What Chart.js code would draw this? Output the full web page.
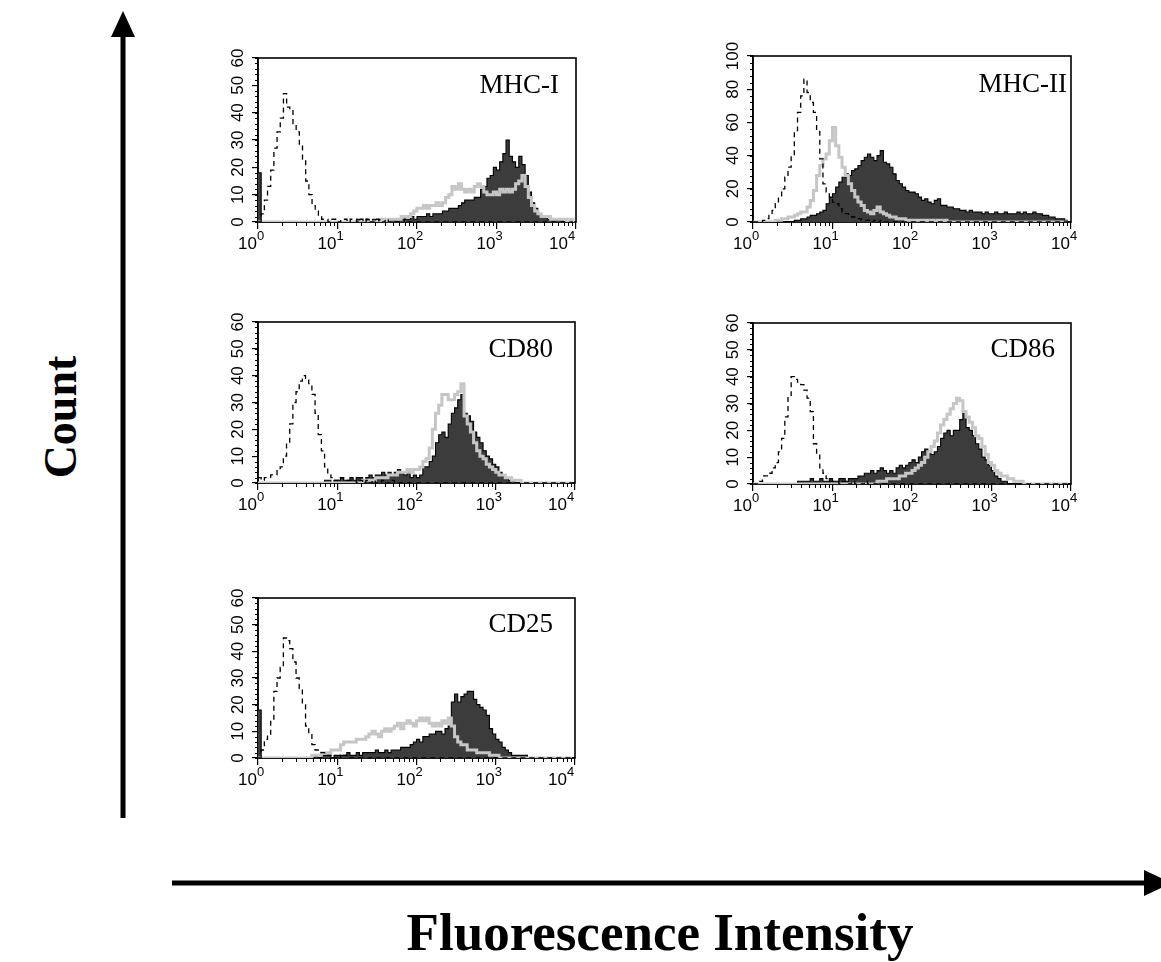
<!DOCTYPE html>
<html>
<head>
<meta charset="utf-8">
<script src="https://cdn.jsdelivr.net/npm/chart.js@4.4.1/dist/chart.umd.min.js"></script>
<style>
  body { margin: 0; background: #fff; }
  #page { position: relative; width: 1161px; height: 962px; overflow: hidden; background: #fff; }
  #page canvas { position: absolute; }
  .big { position: absolute; font-family: 'Liberation Serif', 'Times New Roman', serif; font-weight: bold; color: #000; white-space: nowrap; text-align: center; }
  #countLabel { left: -39px; top: 394px; width: 200px; font-size: 46px; line-height: 46px; transform: rotate(-90deg); }
  #fluoLabel { left: 360px; top: 906px; width: 600px; font-size: 53px; line-height: 53px; }
</style>
</head>
<body>
<div id="page">
  <svg width="1161" height="962" style="position:absolute;left:0;top:0">
    <line x1="123" y1="32" x2="123" y2="818" stroke="#000" stroke-width="5"/>
    <polygon points="123,11 111,37 135,37" fill="#000"/>
    <line x1="172" y1="883" x2="1146" y2="883" stroke="#000" stroke-width="5"/>
    <polygon points="1172,883 1144,870 1144,896" fill="#000"/>
  </svg>
  <div class="big" id="countLabel">Count</div>
  <div class="big" id="fluoLabel">Fluorescence Intensity</div>
</div>
<script>
// 4 log decades, 25 channels per decade
const perDecade = 25;
const channels = 100;
const decadeLabels = ['0', '1', '2', '3', '4'];
const yTicks60 = [0, 10, 20, 30, 40, 50, 60];
const yTicks100 = [0, 20, 40, 60, 80, 100];

// dashed = isotype, gray = line histogram, dark = filled histogram
const mhc1Iso = [
  0, 3, 8, 13, 19, 27, 33, 38, 47, 42,
  41, 36, 33, 28, 23, 15, 10, 6, 4, 2,
  1, 1, 0, 1, 1, 0, 1, 1, 0, 1,
  1, 0, 1, 0, 1, 0, 0, 1, 0, 0,
  1, 0, 0, 0, 0, 0, 1, 0, 0, 0,
  0, 0, 0, 0, 0, 0, 0, 0, 0, 0,
  0, 0, 0, 0, 0, 0, 0, 0, 0, 0,
  0, 0, 0, 0, 0, 0, 0, 0, 0, 0,
  0, 0, 0, 0, 0, 0, 0, 0, 0, 0,
  0, 0, 0, 0, 0, 0, 0, 0, 0, 0];
const mhc1Gray = [
  0, 0, 0, 0, 0, 0, 0, 0, 0, 0,
  0, 0, 0, 0, 0, 0, 0, 0, 0, 0,
  0, 0, 0, 0, 0, 0, 0, 0, 0, 0,
  0, 0, 0, 0, 0, 0, 0, 0, 0, 1,
  0, 1, 1, 1, 1, 2, 2, 2, 3, 4,
  5, 5, 6, 5, 6, 6, 7, 6, 7, 9,
  10, 13, 12, 14, 12, 11, 12, 11, 13, 14,
  13, 11, 10, 10, 11, 10, 12, 11, 12, 11,
  12, 14, 15, 17, 13, 9, 6, 4, 3, 2,
  2, 2, 1, 1, 1, 1, 1, 0, 1, 0];
const mhc1Dark = [
  18, 0, 0, 0, 0, 0, 0, 0, 0, 0,
  0, 0, 0, 0, 0, 0, 0, 0, 0, 0,
  0, 0, 0, 0, 0, 0, 0, 0, 0, 0,
  0, 1, 0, 0, 1, 0, 1, 0, 1, 1,
  0, 1, 1, 1, 1, 1, 1, 1, 2, 1,
  2, 2, 2, 3, 2, 3, 3, 3, 4, 4,
  5, 5, 5, 6, 7, 8, 8, 8, 9, 9,
  12, 13, 16, 17, 20, 19, 22, 25, 30, 24,
  22, 20, 24, 21, 17, 11, 7, 5, 3, 2,
  2, 1, 1, 1, 1, 1, 0, 0, 0, 0];

const mhc2Iso = [
  0, 0, 0, 1, 2, 4, 7, 11, 15, 20,
  27, 33, 40, 55, 66, 76, 86, 78, 72, 66,
  55, 38, 23, 18, 15, 12, 11, 8, 6, 5,
  4, 3, 2, 2, 1, 1, 1, 0, 1, 0,
  1, 0, 0, 0, 0, 0, 0, 0, 0, 0,
  0, 0, 0, 0, 0, 0, 0, 0, 0, 0,
  0, 0, 0, 0, 0, 0, 0, 0, 0, 0,
  0, 0, 0, 0, 0, 0, 0, 0, 0, 0,
  0, 0, 0, 0, 0, 0, 0, 0, 0, 0,
  0, 0, 0, 0, 0, 0, 0, 0, 0, 0];
const mhc2Gray = [
  0, 0, 0, 0, 0, 0, 0, 1, 1, 2,
  2, 3, 3, 4, 5, 6, 6, 9, 13, 19,
  28, 34, 38, 41, 49, 57, 46, 39, 33, 28,
  23, 19, 15, 12, 10, 7, 6, 5, 7, 9,
  6, 5, 4, 3, 3, 2, 2, 2, 1, 1,
  1, 1, 1, 1, 1, 0, 1, 0, 1, 0,
  1, 0, 0, 0, 0, 0, 0, 0, 0, 0,
  0, 0, 0, 0, 0, 0, 0, 0, 0, 0,
  0, 0, 0, 0, 0, 0, 0, 0, 0, 0,
  0, 0, 0, 0, 0, 0, 0, 0, 0, 0];
const mhc2Dark = [
  0, 0, 0, 0, 0, 0, 0, 0, 0, 0,
  0, 0, 0, 1, 1, 2, 2, 3, 4, 4,
  5, 6, 7, 11, 15, 17, 21, 24, 27, 29,
  28, 31, 32, 34, 37, 39, 41, 39, 37, 40,
  43, 36, 35, 33, 29, 25, 23, 21, 19, 18,
  18, 17, 15, 13, 14, 12, 11, 13, 14, 10,
  10, 9, 9, 8, 8, 7, 7, 6, 7, 6,
  6, 6, 5, 6, 5, 5, 6, 5, 5, 6,
  5, 5, 5, 6, 5, 6, 5, 5, 6, 5,
  5, 4, 4, 3, 3, 2, 2, 2, 1, 1];

const cd80Iso = [
  2, 1, 2, 2, 3, 3, 5, 6, 10, 15,
  22, 30, 34, 38, 40, 39, 37, 33, 26, 18,
  12, 6, 3, 2, 1, 1, 2, 1, 1, 1,
  1, 0, 1, 0, 1, 0, 1, 0, 0, 1,
  0, 0, 1, 0, 0, 0, 0, 0, 0, 0,
  0, 0, 0, 0, 0, 0, 0, 0, 0, 0,
  0, 0, 0, 0, 0, 0, 0, 0, 0, 0,
  0, 0, 0, 0, 0, 0, 0, 0, 0, 0,
  0, 0, 0, 0, 0, 0, 0, 0, 0, 0,
  0, 0, 0, 0, 0, 0, 0, 0, 0, 0];
const cd80Gray = [
  0, 0, 0, 0, 0, 0, 0, 0, 0, 0,
  0, 0, 0, 0, 0, 0, 0, 0, 0, 0,
  0, 0, 0, 0, 0, 0, 0, 0, 0, 0,
  0, 0, 0, 1, 1, 1, 1, 2, 2, 2,
  2, 3, 3, 3, 4, 4, 4, 5, 4, 5,
  5, 6, 8, 9, 13, 20, 26, 29, 33, 33,
  31, 31, 33, 34, 37, 25, 22, 19, 15, 12,
  10, 9, 7, 6, 5, 4, 3, 3, 2, 2,
  1, 1, 1, 0, 0, 0, 0, 0, 0, 0,
  0, 0, 0, 0, 0, 0, 0, 0, 0, 0];
const cd80Dark = [
  0, 0, 0, 0, 0, 0, 0, 0, 0, 0,
  0, 0, 0, 0, 0, 0, 0, 0, 0, 0,
  0, 1, 1, 0, 1, 1, 2, 1, 1, 2,
  1, 2, 2, 1, 2, 3, 2, 3, 3, 4,
  3, 4, 3, 4, 5, 4, 3, 4, 2, 3,
  2, 3, 6, 6, 8, 10, 15, 18, 19, 17,
  22, 26, 28, 31, 33, 26, 25, 23, 19, 17,
  15, 12, 10, 9, 7, 6, 4, 3, 2, 1,
  1, 0, 0, 0, 0, 0, 0, 0, 0, 0,
  0, 0, 0, 0, 0, 0, 0, 0, 0, 0];

const cd86Iso = [
  0, 0, 1, 3, 3, 4, 6, 8, 12, 17,
  25, 33, 40, 39, 38, 37, 35, 32, 27, 15,
  11, 6, 4, 2, 1, 1, 1, 0, 1, 1,
  0, 1, 0, 0, 0, 1, 0, 0, 0, 0,
  0, 0, 0, 0, 0, 0, 0, 0, 0, 0,
  0, 0, 0, 0, 0, 0, 0, 0, 0, 0,
  0, 0, 0, 0, 0, 0, 0, 0, 0, 0,
  0, 0, 0, 0, 0, 0, 0, 0, 0, 0,
  0, 0, 0, 0, 0, 0, 0, 0, 0, 0,
  0, 0, 0, 0, 0, 0, 0, 0, 0, 0];
const cd86Gray = [
  0, 0, 0, 0, 0, 0, 0, 0, 0, 0,
  0, 0, 0, 0, 0, 0, 0, 0, 0, 0,
  0, 0, 0, 0, 0, 0, 0, 0, 0, 0,
  0, 0, 0, 0, 0, 0, 0, 0, 0, 1,
  1, 1, 2, 2, 2, 2, 3, 3, 4, 4,
  5, 6, 7, 8, 10, 12, 14, 16, 19, 22,
  24, 26, 28, 30, 32, 31, 27, 25, 23, 21,
  18, 17, 14, 11, 8, 7, 5, 4, 3, 3,
  2, 2, 1, 1, 1, 0, 0, 0, 0, 0,
  0, 0, 0, 0, 0, 0, 0, 0, 0, 0];
const cd86Dark = [
  0, 0, 0, 0, 0, 0, 0, 0, 0, 0,
  0, 0, 0, 0, 1, 1, 1, 1, 2, 1,
  1, 2, 1, 1, 2, 1, 1, 2, 2, 1,
  2, 2, 2, 3, 3, 4, 4, 5, 4, 5,
  6, 5, 4, 5, 4, 6, 7, 6, 7, 8,
  9, 8, 10, 12, 13, 12, 11, 12, 14, 17,
  19, 20, 18, 20, 20, 24, 27, 21, 20, 18,
  15, 13, 10, 9, 7, 5, 3, 2, 1, 1,
  0, 0, 0, 0, 0, 0, 0, 0, 0, 0,
  0, 0, 0, 0, 0, 0, 0, 0, 0, 0];

const cd25Iso = [
  0, 3, 7, 9, 14, 25, 30, 34, 45, 44,
  41, 36, 30, 26, 20, 12, 9, 5, 3, 2,
  2, 1, 1, 1, 0, 1, 0, 1, 0, 0,
  0, 0, 0, 0, 0, 0, 0, 0, 0, 0,
  0, 0, 0, 0, 0, 0, 0, 0, 0, 0,
  0, 0, 0, 0, 0, 0, 0, 0, 0, 0,
  0, 0, 0, 0, 0, 0, 0, 0, 0, 0,
  0, 0, 0, 0, 0, 0, 0, 0, 0, 0,
  0, 0, 0, 0, 0, 0, 0, 0, 0, 0,
  0, 0, 0, 0, 0, 0, 0, 0, 0, 0];
const cd25Gray = [
  0, 0, 0, 0, 0, 0, 0, 0, 0, 0,
  0, 0, 0, 0, 0, 0, 0, 1, 1, 1,
  2, 2, 2, 3, 3, 3, 5, 6, 6, 6,
  6, 7, 7, 7, 8, 9, 10, 9, 8, 10,
  11, 10, 11, 12, 13, 11, 13, 14, 13, 12,
  14, 15, 14, 15, 13, 12, 13, 12, 14, 13,
  15, 12, 8, 6, 5, 5, 3, 3, 3, 2,
  2, 2, 2, 1, 1, 1, 0, 0, 0, 0,
  0, 0, 0, 0, 0, 0, 0, 0, 0, 0,
  0, 0, 0, 0, 0, 0, 0, 0, 0, 0];
const cd25Dark = [
  18, 0, 0, 0, 0, 0, 0, 0, 0, 0,
  0, 0, 0, 0, 0, 0, 0, 0, 1, 0,
  1, 1, 1, 0, 1, 1, 1, 1, 2, 1,
  1, 2, 1, 2, 2, 2, 2, 3, 2, 2,
  3, 2, 3, 3, 3, 4, 4, 4, 5, 6,
  7, 6, 8, 8, 9, 9, 10, 10, 9, 11,
  12, 21, 24, 21, 23, 24, 25, 25, 22, 20,
  19, 18, 16, 11, 9, 7, 6, 4, 3, 2,
  1, 1, 1, 1, 1, 0, 0, 0, 0, 0,
  0, 0, 0, 0, 0, 0, 0, 0, 0, 0];

const tickFont = '"Liberation Sans Narrow", "Arial Narrow", "Liberation Sans", Arial, sans-serif';

const panels = [
  { title: 'MHC-I', iso: mhc1Iso, gray: mhc1Gray, dark: mhc1Dark, yTicks: yTicks60, yMinor: 2,
    left: 258, top: 58, w: 318, h: 164, inset: 17, base: 35, lastShift: -7 },
  { title: 'MHC-II', iso: mhc2Iso, gray: mhc2Gray, dark: mhc2Dark, yTicks: yTicks100, yMinor: 4,
    left: 753, top: 56, w: 318, h: 166, inset: 4, base: 36, lastShift: 0 },
  { title: 'CD80', iso: cd80Iso, gray: cd80Gray, dark: cd80Dark, yTicks: yTicks60, yMinor: 2,
    left: 258, top: 322, w: 317, h: 161, inset: 22, base: 35, lastShift: -7 },
  { title: 'CD86', iso: cd86Iso, gray: cd86Gray, dark: cd86Dark, yTicks: yTicks60, yMinor: 2,
    left: 753, top: 323, w: 318, h: 161, inset: 16, base: 34, lastShift: 0 },
  { title: 'CD25', iso: cd25Iso, gray: cd25Gray, dark: cd25Dark, yTicks: yTicks60, yMinor: 2,
    left: 258, top: 598, w: 317, h: 160, inset: 22, base: 34, lastShift: -7 }
];

const padL = 50, padT = 16, padR = 30, padB = 40;

// frame, minor ticks, log tick labels, rotated count labels, panel name
const flowAxes = {
  id: 'flowAxes',
  beforeDatasetsDraw(chart, args, o) {
    const { ctx, chartArea: a, scales: { x, y } } = chart;
    ctx.save();
    ctx.strokeStyle = '#000';
    ctx.lineWidth = 1.6;
    ctx.strokeRect(a.left, a.top, a.right - a.left, a.bottom - a.top);

    ctx.lineWidth = 1;
    ctx.beginPath();
    for (let d = 0; d < decadeLabels.length - 1; d++) {
      for (let k = 2; k <= 9; k++) {
        const px = Math.round(x.getPixelForValue(perDecade * (d + Math.log10(k)))) + 0.5;
        ctx.moveTo(px, a.bottom);
        ctx.lineTo(px, a.bottom + 4);
      }
    }
    const yMax = o.yTicks[o.yTicks.length - 1];
    for (let v = 0; v <= yMax; v += o.yMinor) {
      const py = Math.round(y.getPixelForValue(v)) + 0.5;
      ctx.moveTo(a.left, py);
      ctx.lineTo(a.left - 3, py);
    }
    ctx.stroke();

    ctx.fillStyle = '#000';
    ctx.textBaseline = 'alphabetic';
    decadeLabels.forEach((e, d) => {
      let px = x.getPixelForValue(d * perDecade) - 1;
      if (d === decadeLabels.length - 1) px += o.lastShift;
      ctx.font = '17px ' + tickFont;
      ctx.textAlign = 'right';
      ctx.fillText('10', px, a.bottom + 27);
      ctx.font = '13px ' + tickFont;
      ctx.textAlign = 'left';
      ctx.fillText(e, px, a.bottom + 18);
    });

    ctx.font = '17px ' + tickFont;
    ctx.textAlign = 'center';
    ctx.textBaseline = 'middle';
    o.yTicks.forEach(v => {
      const py = y.getPixelForValue(v);
      ctx.save();
      ctx.translate(a.left - 20, py);
      ctx.rotate(-Math.PI / 2);
      ctx.fillText(String(v), 0, 0);
      ctx.restore();
    });
    ctx.restore();
  },
  afterDatasetsDraw(chart, args, o) {
    const { ctx, chartArea: a } = chart;
    ctx.save();
    ctx.fillStyle = '#000';
    ctx.font = '27px "Liberation Serif", "Times New Roman", serif';
    ctx.textAlign = 'right';
    ctx.textBaseline = 'alphabetic';
    ctx.fillText(o.title, a.right - o.inset, a.top + o.base);
    ctx.restore();
  }
};

const pts = arr => arr.map((v, i) => ({ x: i, y: v }));

panels.forEach(p => {
  const canvas = document.createElement('canvas');
  canvas.width = padL + p.w + padR;
  canvas.height = padT + p.h + padB;
  canvas.style.left = (p.left - padL) + 'px';
  canvas.style.top = (p.top - padT) + 'px';
  document.getElementById('page').appendChild(canvas);

  const yMax = p.yTicks[p.yTicks.length - 1];
  new Chart(canvas, {
    type: 'line',
    data: {
      datasets: [
        { label: 'isotype', data: pts(p.iso), borderColor: '#000', borderWidth: 1.3, borderDash: [5, 4],
          pointRadius: 0, stepped: 'before', fill: false },
        { label: 'gray', data: pts(p.gray), borderColor: '#c6c6c6', borderWidth: 3,
          pointRadius: 0, stepped: 'before', fill: false },
        { label: 'filled', data: pts(p.dark), borderColor: '#000', borderWidth: 1.1, backgroundColor: '#3c3c3c',
          pointRadius: 0, stepped: 'before', fill: 'origin' }
      ]
    },
    plugins: [flowAxes],
    options: {
      responsive: false,
      animation: false,
      events: [],
      layout: { padding: { left: 0, top: padT, right: padR, bottom: 0 }, autoPadding: false },
      plugins: {
        legend: { display: false },
        tooltip: { enabled: false },
        flowAxes: { title: p.title, yTicks: p.yTicks, yMinor: p.yMinor, inset: p.inset, base: p.base, lastShift: p.lastShift }
      },
      scales: {
        x: {
          type: 'linear', min: 0, max: channels,
          afterBuildTicks: s => { s.ticks = decadeLabels.map((e, d) => ({ value: d * perDecade })); },
          afterFit: s => { s.height = padB; },
          ticks: { display: false },
          grid: { drawOnChartArea: false, drawTicks: true, tickLength: 7, color: '#000', lineWidth: 1.2 },
          border: { display: true, color: '#000', width: 1.6 }
        },
        y: {
          type: 'linear', min: 0, max: yMax,
          afterBuildTicks: s => { s.ticks = p.yTicks.map(v => ({ value: v })); },
          afterFit: s => { s.width = padL; },
          ticks: { display: false },
          grid: { drawOnChartArea: false, drawTicks: true, tickLength: 6, color: '#000', lineWidth: 1.2 },
          border: { display: true, color: '#000', width: 1.6 }
        }
      }
    }
  });
});
</script>
</body>
</html>
